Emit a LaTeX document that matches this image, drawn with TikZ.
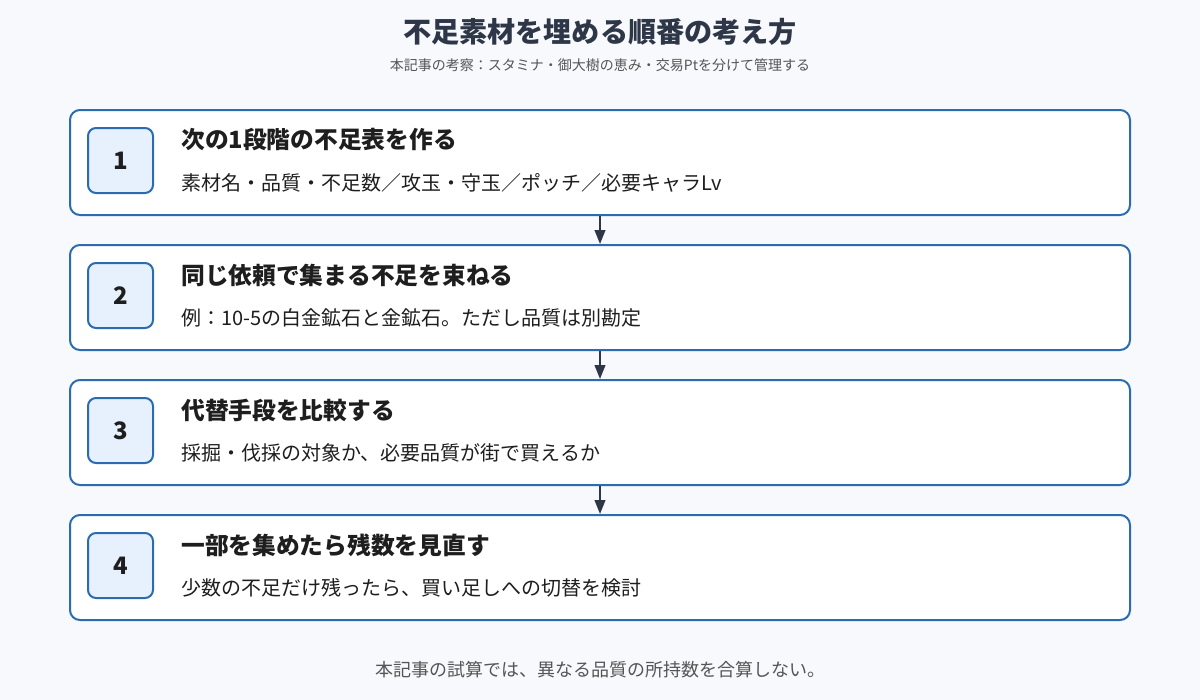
\documentclass[tikz,border=0pt]{standalone}
\usepackage{fontspec}
\setmainfont{Noto Sans CJK JP}
\usetikzlibrary{arrows.meta}

\definecolor{bgcol}{HTML}{F7F9FC}
\definecolor{framecol}{HTML}{2B6CB0}
\definecolor{numfill}{HTML}{E6F1FD}
\definecolor{inkcol}{HTML}{2D3748}
\definecolor{textcol}{HTML}{1E1E1E}
\definecolor{subcol}{HTML}{555555}

\tikzset{
  stepbox/.style={draw=framecol, line width=1.5pt, fill=white, rounded corners=7.5pt,
    minimum width=795pt, minimum height=78.75pt, inner sep=0pt},
  numbox/.style={draw=framecol, line width=1.5pt, fill=numfill, rounded corners=6pt,
    minimum width=48.75pt, minimum height=48.75pt, inner sep=0pt,
    font=\fontsize{18}{20}\selectfont\bfseries, text=textcol},
  headtext/.style={anchor=west, inner sep=0pt, text=textcol,
    font=\fontsize{17.8}{20}\selectfont\bfseries},
  desctext/.style={anchor=west, inner sep=0pt, text=textcol,
    font=\fontsize{15}{17}\selectfont},
  arrowline/.style={draw=inkcol, line width=1.5pt, -{Triangle[length=10.5pt, width=8pt]}}
}

\begin{document}
\begin{tikzpicture}[x=0.75pt, y=-0.75pt]
  % page background
  \fill[bgcol] (0,0) rectangle (1200,700);

  % title and subtitle
  \node[text=inkcol, font=\fontsize{21.1}{24}\selectfont\bfseries] (title) at (600,32) {不足素材を埋める順番の考え方};
  \node[text=subcol, font=\fontsize{10.5}{12}\selectfont] (subtitle) at (600,65) {本記事の考察：スタミナ・御大樹の恵み・交易Ptを分けて管理する};

  % step 1
  \node[stepbox] (step1) at (600,162.5) {};
  \node[numbox] (num1) at (120.5,160.5) {1};
  \node[headtext] (head1) at (181,140) {次の1段階の不足表を作る};
  \node[desctext] (desc1) at (181,182.5) {素材名・品質・不足数／攻玉・守玉／ポッチ／必要キャラLv};

  % step 2
  \node[stepbox] (step2) at (600,297.5) {};
  \node[numbox] (num2) at (120.5,295.5) {2};
  \node[headtext] (head2) at (181,275) {同じ依頼で集まる不足を束ねる};
  \node[desctext] (desc2) at (181,317.5) {例：10-5の白金鉱石と金鉱石。ただし品質は別勘定};

  % step 3
  \node[stepbox] (step3) at (600,432.5) {};
  \node[numbox] (num3) at (120.5,430.5) {3};
  \node[headtext] (head3) at (181,410) {代替手段を比較する};
  \node[desctext] (desc3) at (181,452.5) {採掘・伐採の対象か、必要品質が街で買えるか};

  % step 4
  \node[stepbox] (step4) at (600,567.5) {};
  \node[numbox] (num4) at (120.5,565.5) {4};
  \node[headtext] (head4) at (181,545) {一部を集めたら残数を見直す};
  \node[desctext] (desc4) at (181,587.5) {少数の不足だけ残ったら、買い足しへの切替を検討};

  % connectors
  \draw[arrowline] (step1.south) -- (step2.north);
  \draw[arrowline] (step2.south) -- (step3.north);
  \draw[arrowline] (step3.south) -- (step4.north);

  % footnote
  \node[text=subcol, font=\fontsize{13.5}{16}\selectfont] (footer) at (600,670) {本記事の試算では、異なる品質の所持数を合算しない。};
\end{tikzpicture}
\end{document}
